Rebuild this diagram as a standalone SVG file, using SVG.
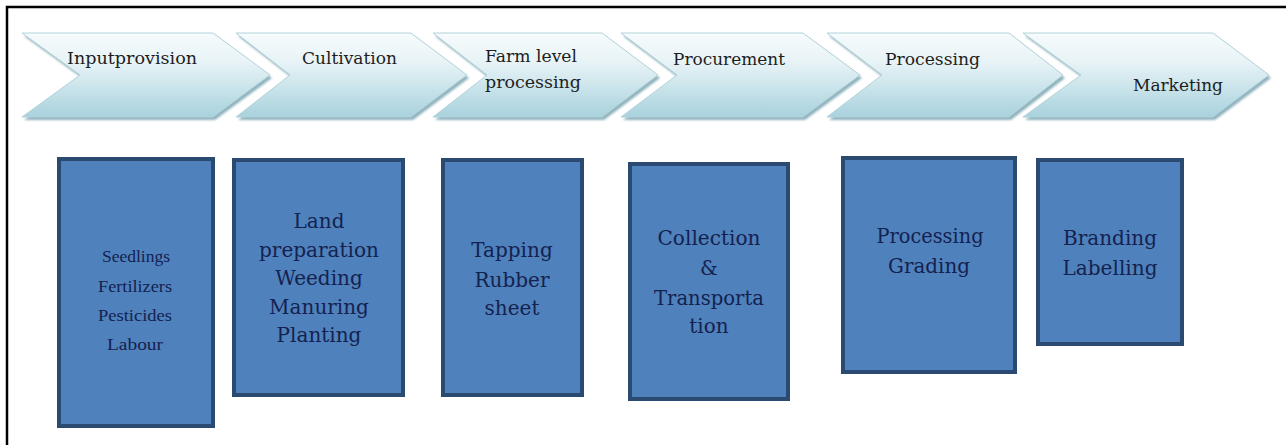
<svg xmlns="http://www.w3.org/2000/svg" width="1286" height="445" viewBox="0 0 1286 445">
<defs>
<linearGradient id="chevFill" x1="0" y1="0" x2="0" y2="1">
<stop offset="0" stop-color="#f6fbfc"/>
<stop offset="0.35" stop-color="#e7f3f6"/>
<stop offset="1" stop-color="#a8d2dd"/>
</linearGradient>
<filter id="soft" x="-10%" y="-10%" width="120%" height="120%">
<feGaussianBlur stdDeviation="1"/>
</filter>
</defs>
<style>
.border{fill:none;stroke:#000;stroke-width:2.5}
.shadow{fill:#8fb3be;filter:url(#soft)}
.chev{fill:url(#chevFill);stroke:#b4d2da;stroke-width:1}
.ctext{font-family:"DejaVu Serif","Liberation Serif",serif;font-size:17px;fill:#1e1e1e}
.box{fill:#4f81bd;stroke:#2a4a72;stroke-width:4}
.btext{font-family:"DejaVu Serif","Liberation Serif",serif;font-size:20px;fill:#14224f;text-anchor:middle}
.stext{font-family:"Liberation Serif","DejaVu Serif",serif;font-size:16px;fill:#14224f;text-anchor:middle}
</style>
<path class="border" d="M7,445 V7 H1286"/>
<g id="connectors"></g>
<g id="chev1">
<polygon class="shadow" points="24,36 215,36 272,78 215,120 24,120 82,78"/>
<polygon class="chev" points="22,33 213,33 270,75 213,117 22,117 80,75"/>
<text class="ctext" x="67" y="64" textLength="130" lengthAdjust="spacingAndGlyphs">Inputprovision</text>
</g>
<g id="chev2">
<polygon class="shadow" points="238,36 413,36 469,78 413,120 238,120 292,78"/>
<polygon class="chev" points="236,33 411,33 467,75 411,117 236,117 290,75"/>
<text class="ctext" x="302" y="64" textLength="95" lengthAdjust="spacingAndGlyphs">Cultivation</text>
</g>
<g id="chev3">
<polygon class="shadow" points="435,36 604,36 660,78 604,120 435,120 489,78"/>
<polygon class="chev" points="433,33 602,33 658,75 602,117 433,117 487,75"/>
<text class="ctext" x="485" y="62" textLength="92" lengthAdjust="spacingAndGlyphs">Farm level</text>
<text class="ctext" x="485" y="88" textLength="96" lengthAdjust="spacingAndGlyphs">processing</text>
</g>
<g id="chev4">
<polygon class="shadow" points="623,36 805,36 862,78 805,120 623,120 679,78"/>
<polygon class="chev" points="621,33 803,33 860,75 803,117 621,117 677,75"/>
<text class="ctext" x="673" y="65" textLength="112" lengthAdjust="spacingAndGlyphs">Procurement</text>
</g>
<g id="chev5">
<polygon class="shadow" points="829,36 1011,36 1065,78 1011,120 829,120 884,78"/>
<polygon class="chev" points="827,33 1009,33 1063,75 1009,117 827,117 882,75"/>
<text class="ctext" x="885" y="65" textLength="95" lengthAdjust="spacingAndGlyphs">Processing</text>
</g>
<g id="chev6">
<polygon class="shadow" points="1025,36 1215,36 1271,78 1215,120 1025,120 1083,78"/>
<polygon class="chev" points="1023,33 1213,33 1269,75 1213,117 1023,117 1081,75"/>
<text class="ctext" x="1133" y="91" textLength="90" lengthAdjust="spacingAndGlyphs">Marketing</text>
</g>
<g id="box1">
<rect class="box" x="59" y="159" width="154" height="267"/>
<text class="stext" x="136" y="262" textLength="68" lengthAdjust="spacingAndGlyphs">Seedlings</text>
<text class="stext" x="135" y="292" textLength="74" lengthAdjust="spacingAndGlyphs">Fertilizers</text>
<text class="stext" x="135" y="321" textLength="74" lengthAdjust="spacingAndGlyphs">Pesticides</text>
<text class="stext" x="135" y="350" textLength="56" lengthAdjust="spacingAndGlyphs">Labour</text>
</g>
<g id="box2">
<rect class="box" x="234" y="160" width="169" height="235"/>
<text class="btext" x="319" y="228">Land</text>
<text class="btext" x="319" y="257" textLength="120" lengthAdjust="spacingAndGlyphs">preparation</text>
<text class="btext" x="319" y="285">Weeding</text>
<text class="btext" x="319" y="314">Manuring</text>
<text class="btext" x="319" y="342">Planting</text>
</g>
<g id="box3">
<rect class="box" x="443" y="160" width="139" height="235"/>
<text class="btext" x="512" y="257">Tapping</text>
<text class="btext" x="512" y="287">Rubber</text>
<text class="btext" x="512" y="315">sheet</text>
</g>
<g id="box4">
<rect class="box" x="630" y="164" width="158" height="235"/>
<text class="btext" x="709" y="245" textLength="103" lengthAdjust="spacingAndGlyphs">Collection</text>
<text class="btext" x="709" y="275">&amp;</text>
<text class="btext" x="709" y="305" textLength="110" lengthAdjust="spacingAndGlyphs">Transporta</text>
<text class="btext" x="709" y="333">tion</text>
</g>
<g id="box5">
<rect class="box" x="843" y="158" width="172" height="214"/>
<text class="btext" x="930" y="243" textLength="107" lengthAdjust="spacingAndGlyphs">Processing</text>
<text class="btext" x="929" y="273" textLength="82" lengthAdjust="spacingAndGlyphs">Grading</text>
</g>
<g id="box6">
<rect class="box" x="1038" y="160" width="144" height="184"/>
<text class="btext" x="1110" y="245" textLength="94" lengthAdjust="spacingAndGlyphs">Branding</text>
<text class="btext" x="1110" y="275" textLength="95" lengthAdjust="spacingAndGlyphs">Labelling</text>
</g>
</svg>
